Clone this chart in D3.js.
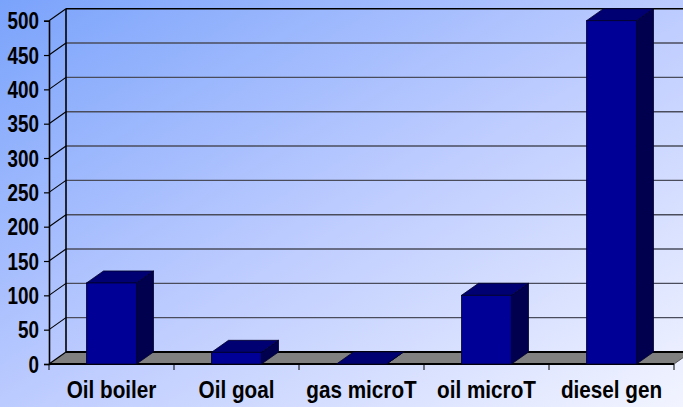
<!DOCTYPE html>
<html><head><meta charset="utf-8">
<script src="https://cdn.jsdelivr.net/npm/d3@7"></script>
<style>html,body{margin:0;padding:0;overflow:hidden;}svg{display:block;}</style>
</head><body>
<script>
const categories = ["Oil boiler", "Oil goal", "gas microT", "oil microT", "diesel gen"];
const values = [118, 17, 0, 100, 500];
const tickValues = [0, 50, 100, 150, 200, 250, 300, 350, 400, 450, 500];

const W = 683, H = 407;
const dx = 17, dy = -12;
const FONT = "'Liberation Sans',Arial,sans-serif";
const svg = d3.select("body").append("svg").attr("width", W).attr("height", H);

const defs = svg.append("defs");
const grad = defs.append("linearGradient").attr("id", "bg")
  .attr("x1", "0").attr("y1", "0").attr("x2", "1").attr("y2", "1");
grad.append("stop").attr("offset", "0").attr("stop-color", "#7aa3fb");
grad.append("stop").attr("offset", "0.5").attr("stop-color", "#bccbff");
grad.append("stop").attr("offset", "1").attr("stop-color", "#f2f4ff");
svg.append("rect").attr("width", W).attr("height", H).attr("fill", "url(#bg)");

const y = d3.scaleLinear().domain([0, 500]).range([364, 20.7]);
const x = d3.scaleBand().domain(categories).range([49, 674]).paddingInner(0.6).paddingOuter(0.3);
const step = x.step();
const x0 = 49, x1 = 674;

// back wall gridlines
const g = svg.append("g");
g.selectAll("line.grid").data(tickValues.filter(v => v > 0)).join("line")
  .attr("x1", x0 + dx).attr("x2", W + 5)
  .attr("y1", d => y(d) + dy).attr("y2", d => y(d) + dy)
  .attr("stroke", d => d === 500 ? "#000" : "#4a4c5c")
  .attr("stroke-width", d => d === 500 ? 1.6 : 1.4);
// diagonals on side wall
g.selectAll("line.diag").data(tickValues.filter(v => v > 0)).join("line")
  .attr("x1", x0).attr("x2", x0 + dx)
  .attr("y1", d => y(d)).attr("y2", d => y(d) + dy)
  .attr("stroke", "#000").attr("stroke-width", 1.1);
// back-left vertical edge
g.append("line").attr("x1", x0 + dx).attr("x2", x0 + dx)
  .attr("y1", y(500) + dy).attr("y2", y(0) + dy)
  .attr("stroke", "#000").attr("stroke-width", 1.6);

// floor
g.append("path")
  .attr("d", `M${x0},${y(0)}L${x1},${y(0)}L${x1 + dx},${y(0) + dy}L${x0 + dx},${y(0) + dy}Z`)
  .attr("fill", "#808080").attr("stroke", "none");
g.append("line").attr("x1", x0 + dx).attr("x2", W + 5).attr("y1", y(0) + dy).attr("y2", y(0) + dy)
  .attr("stroke", "#000").attr("stroke-width", 2);
g.append("line").attr("x1", x0).attr("x2", x1).attr("y1", y(0)).attr("y2", y(0))
  .attr("stroke", "#000").attr("stroke-width", 2);
g.append("line").attr("x1", x0).attr("x2", x0 + dx).attr("y1", y(0)).attr("y2", y(0) + dy)
  .attr("stroke", "#000").attr("stroke-width", 1.2);
g.append("line").attr("x1", x1).attr("x2", x1 + dx).attr("y1", y(0)).attr("y2", y(0) + dy)
  .attr("stroke", "#555").attr("stroke-width", 1);

// bars
const data = categories.map((c, i) => ({c, v: values[i]}));
const bars = svg.append("g").selectAll("g").data(data).join("g");
const bw = x.bandwidth();
const sc = "#00002a";
bars.append("path") // side
  .attr("d", d => { const a = x(d.c) + bw, t = y(d.v), b = y(0);
    return `M${a},${t}L${a + dx},${t + dy}L${a + dx},${b + dy}L${a},${b}Z`; })
  .attr("fill", "#00004e").attr("stroke", sc).attr("stroke-width", 0.8);
bars.append("path") // top
  .attr("d", d => { const a = x(d.c), t = y(d.v);
    return `M${a},${t}L${a + bw},${t}L${a + bw + dx},${t + dy}L${a + dx},${t + dy}Z`; })
  .attr("fill", "#000073").attr("stroke", sc).attr("stroke-width", 0.8);
bars.append("rect") // front
  .attr("x", d => x(d.c)).attr("y", d => y(d.v))
  .attr("width", bw).attr("height", d => y(0) - y(d.v))
  .attr("fill", "#000096").attr("stroke", sc).attr("stroke-width", 0.8);

// y axis
const ySx = 0.82;
const yAxis = svg.append("g").attr("transform", `translate(${x0},0)`)
  .call(d3.axisLeft(y).tickValues(tickValues).tickSize(5).tickPadding(5).tickFormat(d3.format("d")));
yAxis.select(".domain").attr("stroke", "#000").attr("stroke-width", 1.6);
yAxis.selectAll(".tick line").attr("stroke", "#000").attr("stroke-width", 1.2);
yAxis.selectAll(".tick text")
  .attr("fill", "#000")
  .attr("x", -10 / ySx)
  .attr("transform", `scale(${ySx},1)`)
  .style("font-family", FONT)
  .style("font-weight", "bold").style("font-size", "23px")
  .attr("dy", "0.36em");

// x axis ticks at category boundaries
const bounds = d3.range(categories.length + 1).map(i => x0 + i * step);
svg.append("g").selectAll("line").data(bounds).join("line")
  .attr("x1", d => d).attr("x2", d => d).attr("y1", y(0)).attr("y2", y(0) + 6)
  .attr("stroke", "#000").attr("stroke-width", 1);
svg.append("g").selectAll("text").data(categories).join("text")
  .attr("transform", d => `translate(${x(d) + bw / 2},398) scale(0.9,1)`)
  .attr("text-anchor", "middle")
  .style("font-family", FONT)
  .style("font-weight", "bold").style("font-size", "23px")
  .attr("fill", "#000")
  .text(d => d);
</script>
</body></html>
